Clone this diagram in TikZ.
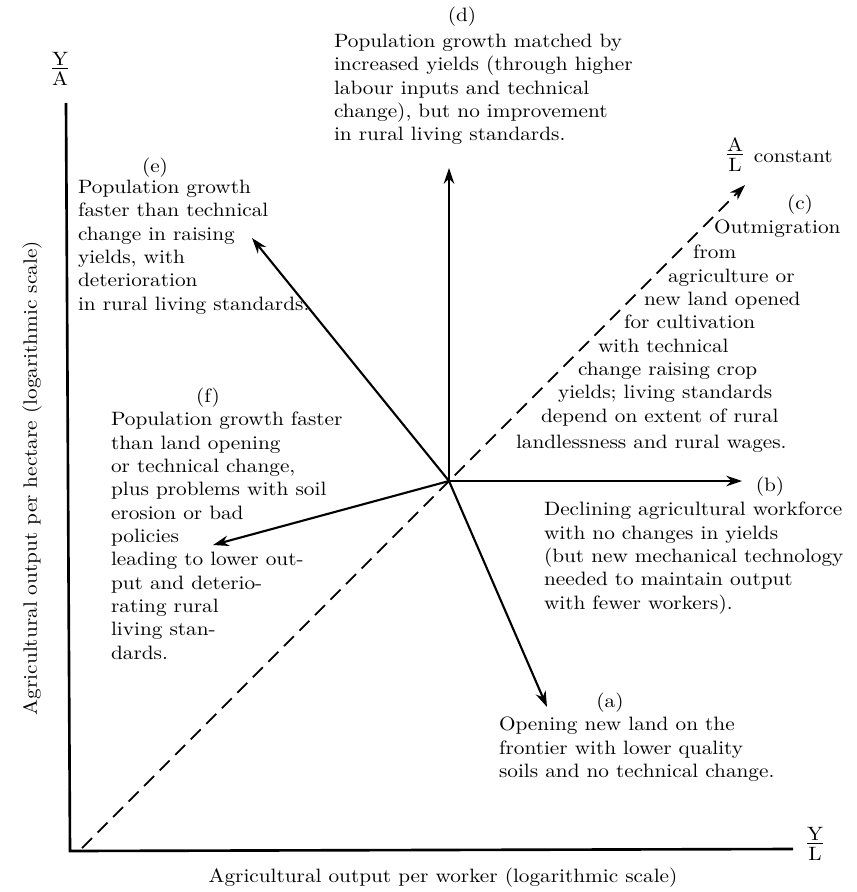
\documentclass[tikz,border=0pt]{standalone}
\usepackage{fontspec}
\setmainfont{Latin Modern Roman}[FakeStretch=1.1]
\usetikzlibrary{arrows.meta, positioning}

\newcommand{\ratio}[2]{\begin{tabular}{@{}c@{}}#1\\[-2.5pt]\hline\rule{0pt}{9pt}#2\end{tabular}}

\begin{document}
\begin{tikzpicture}[x=0.02cm, y=-0.02cm, line width=1.2pt,
    txt/.style={font=\fontsize{11}{13.3}\selectfont, inner sep=0pt, align=left, anchor=north west},
    lbl/.style={font=\fontsize{11}{13.3}\selectfont, inner sep=0pt},
    arr/.style={-{Stealth[length=9pt, width=6pt]}, line width=1.2pt}]
    \useasboundingbox (0,0) rectangle (856,892);
    % axes
    \coordinate (orig) at (70,851);
    \coordinate (ytop) at (66,103);
    \coordinate (xend) at (793,849);
    \draw[line width=1.5pt] (ytop) -- (orig) -- (xend);
    \node[lbl] (ya) at (60,71) {\ratio{Y}{A}};
    \node[lbl] (yl) at (815,846) {\ratio{Y}{L}};
    \node[lbl] (xlab) at (443,878) {Agricultural output per worker (logarithmic scale)};
    \node[lbl, rotate=90] (ylab) at (32,478) {Agricultural output per hectare (logarithmic scale)};
    % directions of change
    \coordinate (o) at (449,481);
    \coordinate (dl) at (82,848);
    \coordinate (tc) at (745,185);
    \coordinate (td) at (449,168);
    \coordinate (te) at (252,238);
    \coordinate (tf) at (213,545);
    \coordinate (tb) at (742,481);
    \coordinate (ta) at (547,707);
    \draw[arr, line width=1pt, dash pattern=on 8pt off 4.5pt] (dl) -- (tc);
    \draw[arr] (o) -- (td);
    \draw[arr] (o) -- (te);
    \draw[arr] (o) -- (tf);
    \draw[arr] (o) -- (tb);
    \draw[arr] (o) -- (ta);
    % (d)
    \node[lbl] (dn) at (462,17) {(d)};
    \node[txt] (dt) at (333,33) {Population growth matched by\\increased yields (through higher\\labour inputs and technical\\change), but no improvement\\in rural living standards.};
    % (c)
    \node[lbl] (al) at (735,157) {\ratio{A}{L}};
    \node[lbl, right=5pt of al] (const) {constant};
    \node[lbl] (cn) at (800,205) {(c)};
    \foreach \x/\y/\t [count=\i] in {713/233/Outmigration, 692/258/from, 667/282/agriculture or,
        643/305/new land opened, 623/328/for cultivation, 597/352/with technical,
        577/375/change raising crop, 557/398/yields; living standards,
        540/422/depend on extent of rural, 515/448/landlessness and rural wages.}
        \node[lbl, anchor=base west] (c\i) at (\x,\y) {\t};
    % (e)
    \node[lbl] (en) at (155,168) {(e)};
    \node[txt] (et) at (77,179) {Population growth\\faster than technical\\change in raising\\yields, with\\deterioration\\in rural living standards.};
    % (f)
    \node[lbl] (fn) at (208,398) {(f)};
    \node[txt] (ft) at (110,411) {Population growth faster\\than land opening\\or technical change,\\plus problems with soil\\erosion or bad\\policies\\leading to lower out-\\put and deterio-\\rating rural\\living stan-\\dards.};
    % (b)
    \node[lbl] (bn) at (770,487) {(b)};
    \node[txt] (bt) at (543,501) {Declining agricultural workforce\\with no changes in yields\\(but new mechanical technology\\needed to maintain output\\with fewer workers).};
    % (a)
    \node[lbl] (an) at (610,703) {(a)};
    \node[txt] (at) at (498,716) {Opening new land on the\\frontier with lower quality\\soils and no technical change.};
\end{tikzpicture}
\end{document}
